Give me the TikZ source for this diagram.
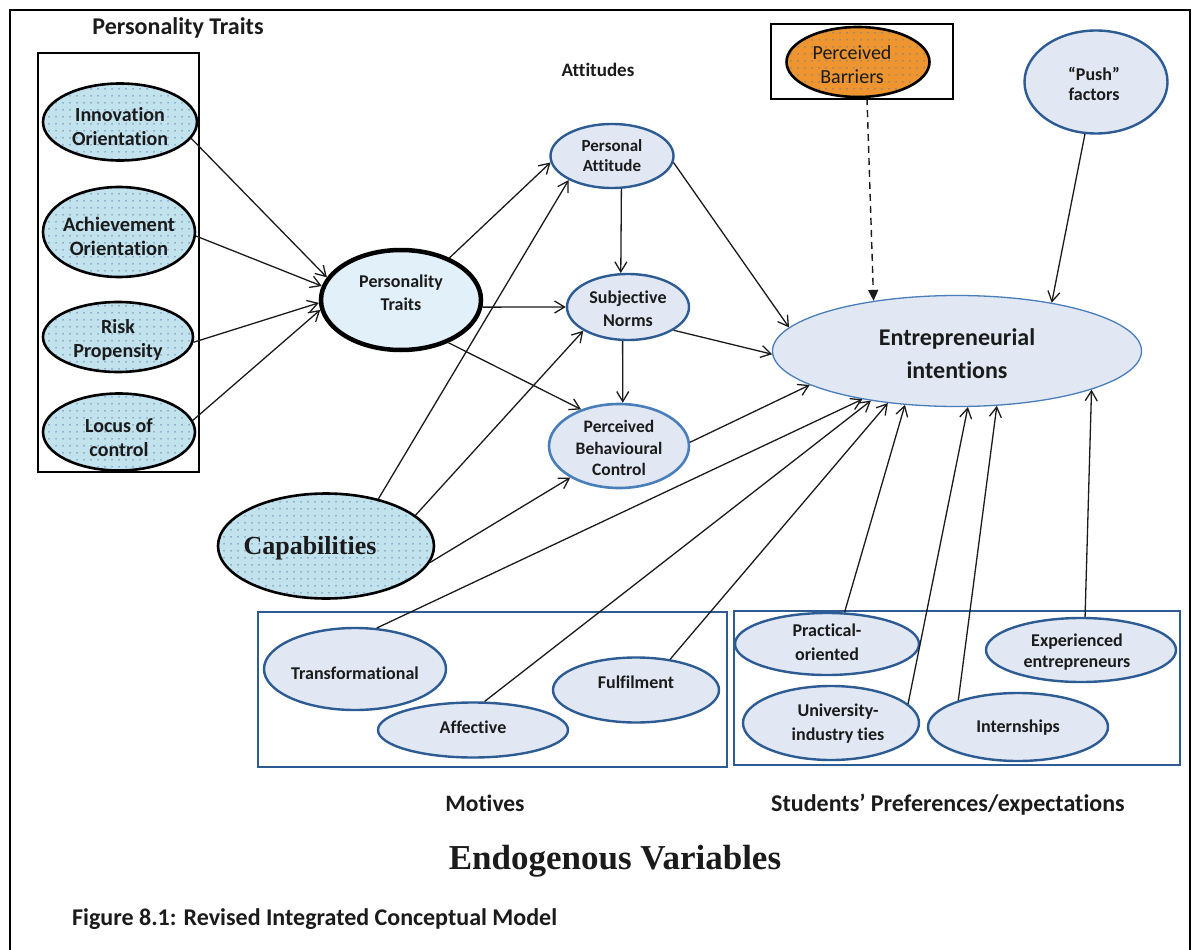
\documentclass[tikz,border=0pt]{standalone}
\usepackage{fontspec}
\setmainfont{Carlito}[Ligatures=NoCommon]
\newfontfamily\serifbold{Liberation Serif}
\usetikzlibrary{shapes.geometric,arrows.meta,patterns.meta}

\definecolor{ink}{HTML}{1B1B1B}
\definecolor{skyfill}{HTML}{C2E2EE}
\definecolor{dotblue}{HTML}{4F7FA8}
\definecolor{ptfill}{HTML}{E2F1F9}
\definecolor{lav}{HTML}{E1E8F4}
\definecolor{navy}{HTML}{2D5B93}
\definecolor{midblue}{HTML}{4A7EBB}
\definecolor{barrier}{HTML}{EE9530}

\newcommand\fsz[2]{\fontsize{#1}{#2}\selectfont}

\tikzset{
  oval/.style={ellipse, inner sep=0pt},
  speckled/.style={preaction={fill=#1}, pattern={Dots[distance=7pt,radius=0.75pt]}, pattern color=dotblue},
  trait/.style={oval, speckled=skyfill, draw=black, line width=2.6pt},
  soft/.style={oval, fill=lav, draw=navy, line width=2.4pt},
  txt/.style={align=center, text=ink, inner sep=0pt},
  arr/.style={draw=ink, line width=1.3pt, -{Straight Barb[length=10pt,width=12pt]}},
  dasharr/.style={draw=ink, line width=1.4pt, dash pattern=on 7pt off 5pt, -{Triangle[length=11pt,width=10pt]}},
  frameline/.style={draw=black, line width=2.4pt},
  groupbox/.style={draw=navy, line width=2.6pt},
}

\begin{document}
\begin{tikzpicture}[x=1pt,y=-1pt]
\useasboundingbox (0,0) rectangle (1192,950);
\fill[white] (0,0) rectangle (1192,950);

% outer frame, open at the bottom
\draw[frameline] (10,950) -- (10,10) -- (1190,10) -- (1190,950);

% personality traits group
\draw[draw=black, line width=2.6pt] (38,53) rectangle (199,472);
\node[txt, anchor=base, font=\bfseries\fsz{24}{28}] (ptitle) at (178,35) {Personality Traits};

\node[trait, minimum width=154pt, minimum height=77pt,
  label={[txt, font=\bfseries\fsz{20}{24}, yshift=-5pt]center:Innovation\\Orientation}] (inno) at (120,122) {};
\node[trait, minimum width=152pt, minimum height=90pt,
  label={[txt, font=\bfseries\fsz{20.5}{24}, yshift=-4pt]center:Achievement\\Orientation}] (achv) at (119,232) {};
\node[trait, minimum width=150pt, minimum height=70pt,
  label={[txt, font=\bfseries\fsz{20}{24}, yshift=-3pt]center:Risk\\Propensity}] (risk) at (118,337) {};
\node[trait, minimum width=152pt, minimum height=77pt,
  label={[txt, font=\bfseries\fsz{20}{24}, yshift=-6pt]center:Locus of\\control}] (locus) at (119,432) {};

\node[oval, fill=ptfill, draw=black, line width=4.5pt, minimum width=160pt, minimum height=100pt,
  label={[txt, font=\bfseries\fsz{18}{23}, yshift=7pt]center:Personality\\Traits}] (pt) at (401,300) {};

% attitudes
\node[txt, anchor=base, font=\bfseries\fsz{19}{22}] (atti) at (598,77) {Attitudes};
\node[soft, minimum width=123pt, minimum height=64pt,
  label={[txt, font=\bfseries\fsz{17}{20}]center:Personal\\Attitude}] (pa) at (612,156) {};
\node[soft, minimum width=122pt, minimum height=66pt,
  label={[txt, font=\bfseries\fsz{18}{23}, yshift=-2pt]center:Subjective\\Norms}] (sn) at (628,307) {};
\node[oval, fill=lav, draw=midblue, line width=2.6pt, minimum width=140pt, minimum height=84pt,
  label={[txt, font=\bfseries\fsz{17.5}{21.5}, yshift=-2pt]center:Perceived\\Behavioural\\Control}] (pbc) at (619,446) {};

% outcome and external influences
\node[oval, fill=lav, draw=midblue, line width=1.3pt, minimum width=369pt, minimum height=111pt,
  label={[txt, font=\bfseries\fsz{24}{33}, yshift=-3pt]center:Entrepreneurial\\intentions}] (ei) at (957,351) {};

\draw[draw=black, line width=2.7pt] (771,24) rectangle (953,99);
\node[oval, speckled=barrier, draw=black, line width=2.6pt, minimum width=143pt, minimum height=70pt,
  label={[txt, font=\fsz{20}{24}, yshift=-3pt, xshift=-6pt]center:Perceived\\Barriers}] (bar) at (858,62) {};
\node[soft, minimum width=143pt, minimum height=103pt,
  label={[txt, font=\bfseries\fsz{18}{20}, yshift=-2pt, xshift=-2pt]center:“Push”\\factors}] (push) at (1096,82) {};

% capabilities
\node[trait, minimum width=216pt, minimum height=105pt,
  label={[txt, font=\serifbold\bfseries\fsz{26}{30}, xshift=-16pt, yshift=-2pt]center:Capabilities}] (cap) at (326,546) {};

% motives group
\draw[groupbox] (258,612) rectangle (727,767);
\node[soft, minimum width=182pt, minimum height=82pt,
  label={[txt, font=\bfseries\fsz{18}{22}, yshift=-4pt]center:Transformational}] (trans) at (355,669) {};
\node[soft, minimum width=190pt, minimum height=55pt,
  label={[txt, font=\bfseries\fsz{18}{22}, yshift=3pt]center:Affective}] (aff) at (473,730) {};
\node[soft, minimum width=166pt, minimum height=65pt,
  label={[txt, font=\bfseries\fsz{18}{22}, yshift=8pt]center:Fulfilment}] (fulf) at (636,690) {};
\node[txt, anchor=base, font=\bfseries\fsz{23.5}{28}] (motl) at (485,811) {Motives};

% students' preferences group
\draw[groupbox] (734,611) rectangle (1180,765);
\node[soft, minimum width=184pt, minimum height=62pt,
  label={[txt, font=\bfseries\fsz{18}{24}, yshift=2pt]center:Practical-\\oriented}] (prac) at (827,644) {};
\node[soft, minimum width=176pt, minimum height=74pt,
  label={[txt, font=\bfseries\fsz{18}{24}, yshift=-1pt, xshift=7pt]center:University-\\industry ties}] (univ) at (831,723) {};
\node[soft, minimum width=180pt, minimum height=68pt,
  label={[txt, font=\bfseries\fsz{18}{22}, yshift=-1pt]center:Internships}] (intern) at (1018,727) {};
\node[soft, minimum width=190pt, minimum height=64pt,
  label={[txt, font=\bfseries\fsz{18}{21}, yshift=-2pt, xshift=-4pt]center:Experienced\\entrepreneurs}] (exper) at (1081,650) {};
\node[txt, anchor=base, font=\bfseries\fsz{24}{28}] (stul) at (948,811) {Students’ Preferences/expectations};

% headings
\node[txt, anchor=base, font=\serifbold\bfseries\fsz{35}{40}] (endo) at (615,869) {Endogenous Variables};
\node[txt, anchor=base west, font=\bfseries\fsz{24}{28}] (figcap) at (72,925) {Figure 8.1: Revised Integrated Conceptual Model};

% traits into the personality construct
\draw[arr] (inno.-13) -- (pt.163);
\draw[arr] (achv.-3) -- (pt.170);
\draw[arr] (risk.-4) -- (pt.182);
\draw[arr] (locus.9) -- (pt.187);

% personality into attitudes
\draw[arr] (pt.41) -- (pa.186);
\draw[arr] (pt.-5) -- (sn.180);
\draw[arr] (pt.-42) -- (pbc.136);
\draw[arr] (pa.-74) -- (sn.102);
\draw[arr] (sn.-99) -- (pbc.85);

% capabilities into attitudes
\draw[arr] (cap.42) -- (pa.209);
\draw[arr] (cap.19) -- (sn.208);
\draw[arr] (cap.-9) -- (pbc.213);

% attitudes into intentions
\draw[arr] (pa.-6) -- (ei.172);
\draw[arr] (sn.-27) -- (ei.181);
\draw[arr] (pbc.3) -- (ei.193);

% motives into intentions
\draw[arr] (trans.62) -- (ei.207);
\draw[arr] (aff.68) -- (ei.210);
\draw[arr] (fulf.42) -- (ei.217);

% preferences into intentions
\draw[arr] (prac.61) -- (ei.226);
\draw[arr] (univ.14) -- (ei.281);
\draw[arr] (intern.156) -- (ei.306);
\draw[arr] (exper.83) -- (ei.344);

% external factors
\draw[arr] (push.258) -- (ei.27);
\draw[dasharr] (bar.-76) -- (ei.149);
\end{tikzpicture}
\end{document}
